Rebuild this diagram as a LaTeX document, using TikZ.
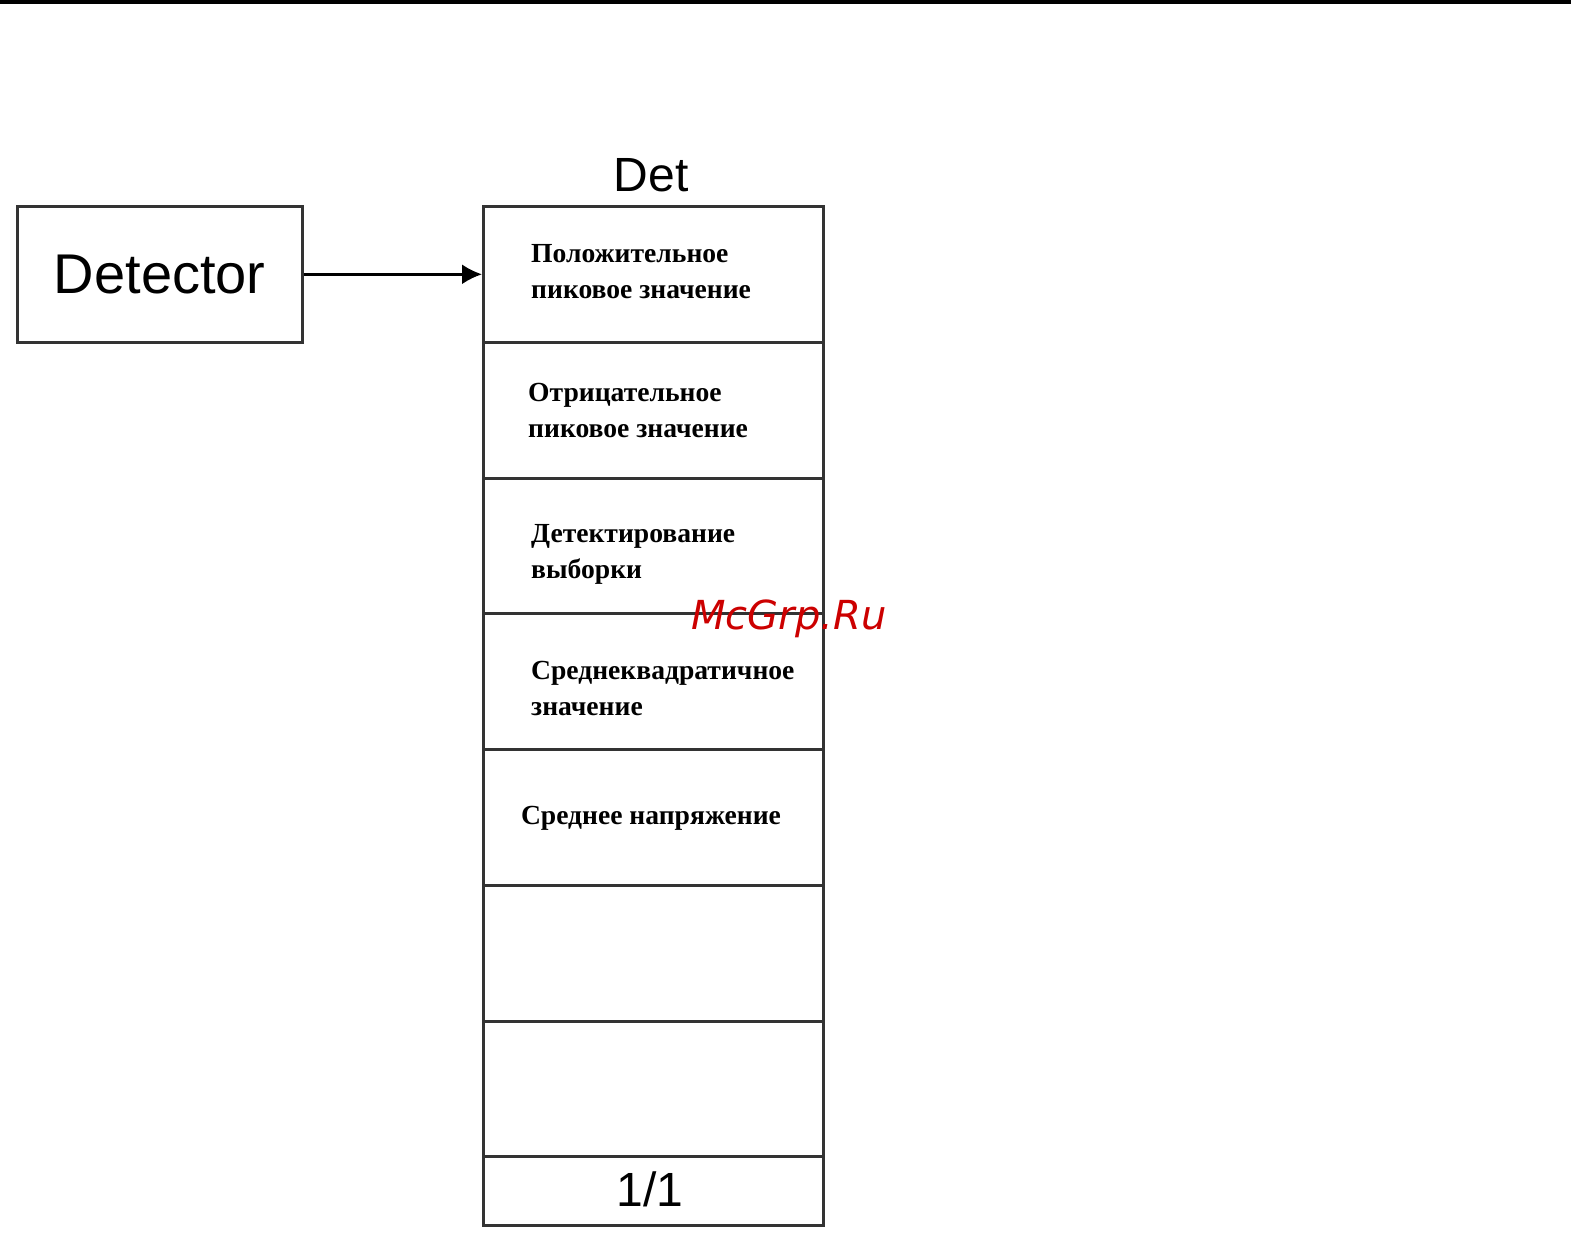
\documentclass[tikz,border=0pt]{standalone}
\usetikzlibrary{arrows.meta}
\usepackage{fontspec}
\setmainfont{Liberation Serif}
\newfontfamily\arialf{Liberation Sans}
\newfontfamily\wmf{DejaVu Sans}
\begin{document}
\begin{tikzpicture}[x=1pt,y=-1pt,
  boxline/.style={draw=black!80,line width=2.6pt},
  rowtxt/.style={font=\fontsize{27.6}{36}\selectfont\bfseries,align=left,anchor=west,inner sep=0pt}]
\useasboundingbox (0,0) rectangle (1571,1234);
\fill[black] (0,0) rectangle (1571,4);
\node[boxline,minimum width=285pt,minimum height=136pt,inner sep=0pt,anchor=north west,
  font=\arialf\fontsize{56}{60}\selectfont] (det) at (16,205) {Detector};
\node[font=\arialf\fontsize{48}{50}\selectfont,inner sep=0pt] (title) at (651,175) {Det};
\foreach \i/\t/\b in {1/205/341,2/341/477,3/477/612,4/612/748,5/748/884,6/884/1020,7/1020/1155,8/1155/1224}{
  \node[boxline,anchor=north west,minimum width=340pt,minimum height={\b-\t},inner sep=0pt] (r\i) at (482,\t) {};
}
\node[rowtxt] (t1) at (531,272) {Положительное\\пиковое значение};
\node[rowtxt] (t2) at (528,410) {Отрицательное\\пиковое значение};
\node[rowtxt] (t3) at (531,554) {Детектирование\\выборки};
\node[rowtxt] (t4) at (531,688) {Среднеквадратичное\\значение};
\node[rowtxt,anchor=center] (t5) at (651,818) {Среднее напряжение};
\node[font=\arialf\fontsize{48}{50}\selectfont,inner sep=0pt] (t8) at (650,1189) {1/1};
\draw[line width=2.4pt,-{Latex[length=20pt,width=20pt]}] (det.east) -- (r1.west);
\node[font=\wmf\itshape\fontsize{40}{42}\selectfont,text=red!80!black,inner sep=0pt] (wm) at (789,619) {McGrp.Ru};
\end{tikzpicture}
\end{document}
